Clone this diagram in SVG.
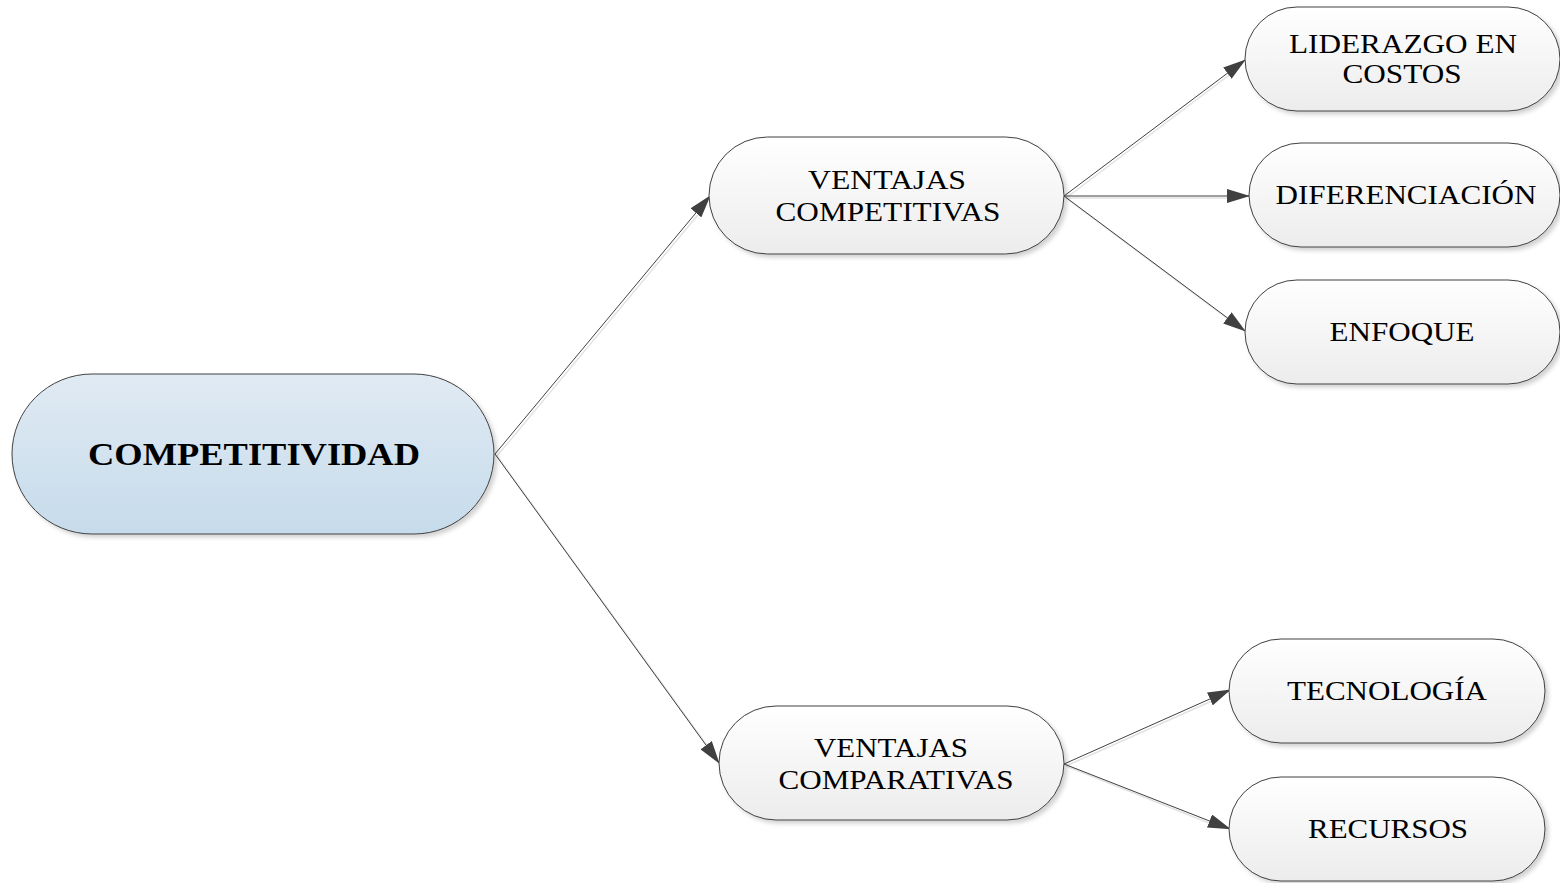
<svg xmlns="http://www.w3.org/2000/svg" width="1560" height="883" viewBox="0 0 1560 883">
  <defs>
    <linearGradient id="gMain" x1="0" y1="0" x2="0" y2="1">
      <stop offset="0" stop-color="#e0eaf3"/>
      <stop offset="1" stop-color="#c6dbeb"/>
    </linearGradient>
    <linearGradient id="gNode" x1="0" y1="0" x2="0" y2="1">
      <stop offset="0" stop-color="#ffffff"/>
      <stop offset="1" stop-color="#ececec"/>
    </linearGradient>
    <filter id="sh" x="-10%" y="-10%" width="125%" height="130%">
      <feDropShadow dx="3" dy="3" stdDeviation="2" flood-color="#000" flood-opacity="0.18"/>
    </filter>
    <marker id="arr" markerUnits="userSpaceOnUse" markerWidth="23" markerHeight="14" refX="22" refY="7" orient="auto">
      <path d="M0,0 L23,7 L0,14 Z" fill="#404040"/>
    </marker>
  </defs>
  <style>
    .node { stroke: #404040; stroke-width: 1; filter: url(#sh); }
    .n { fill: url(#gNode); }
    .m { fill: url(#gMain); }
    .t { font-family: "Liberation Serif", "Times New Roman", serif; font-size: 27px; fill: #000; text-anchor: middle; }
    .tb { font-family: "Liberation Serif", "Times New Roman", serif; font-size: 32px; font-weight: bold; fill: #000; text-anchor: middle; }
    .c { stroke: #404040; stroke-width: 1; fill: none; marker-end: url(#arr); }
    .cs { stroke: #e2e2e2; stroke-width: 1.5; fill: none; }
  </style>

  <g id="connectors">
    <g transform="translate(2,2)">
      <line class="cs" x1="495" y1="454" x2="700" y2="208"/>
      <line class="cs" x1="495" y1="454" x2="709" y2="749"/>
      <line class="cs" x1="1064" y1="196" x2="1230" y2="71"/>
      <line class="cs" x1="1064" y1="196" x2="1230" y2="196"/>
      <line class="cs" x1="1064" y1="196" x2="1230" y2="320"/>
      <line class="cs" x1="1064" y1="764" x2="1212" y2="698"/>
      <line class="cs" x1="1064" y1="764" x2="1212" y2="823"/>
    </g>
    <line class="c" x1="495" y1="454" x2="710" y2="196"/>
    <line class="c" x1="495" y1="454" x2="719" y2="763"/>
    <line class="c" x1="1064" y1="196" x2="1245" y2="60"/>
    <line class="c" x1="1064" y1="196" x2="1249" y2="196"/>
    <line class="c" x1="1064" y1="196" x2="1245" y2="331"/>
    <line class="c" x1="1064" y1="764" x2="1230" y2="690"/>
    <line class="c" x1="1064" y1="764" x2="1230" y2="829"/>
  </g>

  <g id="competitividad">
    <rect class="node m" x="12" y="374" width="482" height="160" rx="80" ry="80"/>
    <text class="tb" x="254" y="465" textLength="332" lengthAdjust="spacingAndGlyphs">COMPETITIVIDAD</text>
  </g>

  <g id="ventajas-competitivas">
    <rect class="node n" x="709" y="137" width="355" height="117" rx="58.5" ry="58.5"/>
    <text class="t" x="887" y="189" textLength="158" lengthAdjust="spacingAndGlyphs">VENTAJAS</text>
    <text class="t" x="888" y="221" textLength="225" lengthAdjust="spacingAndGlyphs">COMPETITIVAS</text>
  </g>

  <g id="liderazgo">
    <rect class="node n" x="1245" y="7" width="315" height="104" rx="52" ry="52"/>
    <text class="t" x="1403" y="53" textLength="228" lengthAdjust="spacingAndGlyphs">LIDERAZGO EN</text>
    <text class="t" x="1402" y="83" textLength="119" lengthAdjust="spacingAndGlyphs">COSTOS</text>
  </g>

  <g id="diferenciacion">
    <rect class="node n" x="1249" y="143" width="311" height="104" rx="52" ry="52"/>
    <text class="t" x="1406" y="204" textLength="261" lengthAdjust="spacingAndGlyphs">DIFERENCIACIÓN</text>
  </g>

  <g id="enfoque">
    <rect class="node n" x="1245" y="280" width="315" height="104" rx="52" ry="52"/>
    <text class="t" x="1402" y="341" textLength="145" lengthAdjust="spacingAndGlyphs">ENFOQUE</text>
  </g>

  <g id="ventajas-comparativas">
    <rect class="node n" x="719" y="706" width="345" height="114" rx="57" ry="57"/>
    <text class="t" x="891" y="757" textLength="154" lengthAdjust="spacingAndGlyphs">VENTAJAS</text>
    <text class="t" x="896" y="789" textLength="235" lengthAdjust="spacingAndGlyphs">COMPARATIVAS</text>
  </g>

  <g id="tecnologia">
    <rect class="node n" x="1229" y="639" width="316" height="104" rx="52" ry="52"/>
    <text class="t" x="1387" y="700" textLength="200" lengthAdjust="spacingAndGlyphs">TECNOLOGÍA</text>
  </g>

  <g id="recursos">
    <rect class="node n" x="1229" y="777" width="316" height="104" rx="52" ry="52"/>
    <text class="t" x="1388" y="838" textLength="160" lengthAdjust="spacingAndGlyphs">RECURSOS</text>
  </g>
</svg>
